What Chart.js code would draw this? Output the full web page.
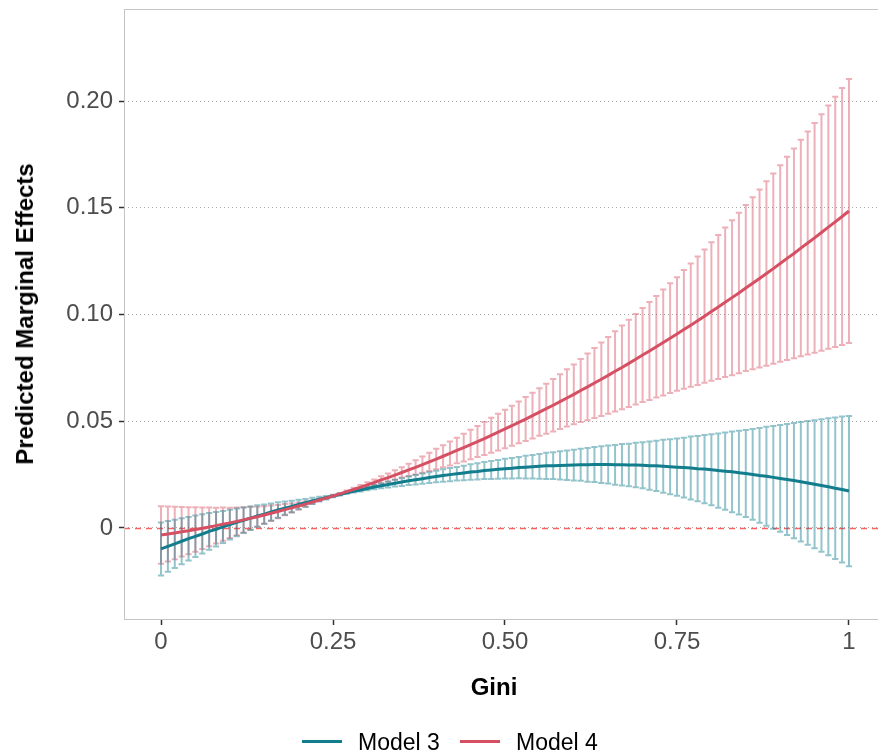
<!DOCTYPE html>
<html>
<head>
<meta charset="utf-8">
<script src="https://cdn.jsdelivr.net/npm/chart.js@4.4.1/dist/chart.umd.min.js"></script>
<style>
  html, body { margin: 0; padding: 0; background: #ffffff; overflow: hidden; width: 878px; height: 755px; }
  #wrap { position: relative; width: 900px; height: 755px; }
  #c { position: absolute; left: 0; top: 0; }
  .txt { position: absolute; font-family: "Liberation Sans", Arial, sans-serif; white-space: nowrap; color: #000; }
  #ytitle { left: 25px; top: 314px; font-weight: bold; font-size: 24px; transform: translate(-50%, -50%) rotate(-90deg); }
  #xtitle { left: 494px; top: 687px; font-weight: bold; font-size: 24px; transform: translate(-50%, -50%); }
  .sw { position: absolute; height: 3px; width: 40px; }
  .leg { font-size: 23px; line-height: 26px; top: 729px; }
</style>
</head>
<body>
<div id="wrap">
  <canvas id="c" width="900" height="755"></canvas>
  <div class="txt" id="ytitle">Predicted Marginal Effects</div>
  <div class="txt" id="xtitle">Gini</div>
  <div class="sw" id="sw3" style="left:302px; top:740px;"></div>
  <div class="txt leg" id="lg3" style="left:358px;">Model 3</div>
  <div class="sw" id="sw4" style="left:460px; top:740px;"></div>
  <div class="txt leg" id="lg4" style="left:516px;">Model 4</div>
</div>
<script>
// ---------------- data ----------------
const gini = [0,0.01,0.02,0.03,0.04,0.05,0.06,0.07,0.08,0.09,
  0.10,0.11,0.12,0.13,0.14,0.15,0.16,0.17,0.18,0.19,
  0.20,0.21,0.22,0.23,0.24,0.25,0.26,0.27,0.28,0.29,
  0.30,0.31,0.32,0.33,0.34,0.35,0.36,0.37,0.38,0.39,
  0.40,0.41,0.42,0.43,0.44,0.45,0.46,0.47,0.48,0.49,
  0.50,0.51,0.52,0.53,0.54,0.55,0.56,0.57,0.58,0.59,
  0.60,0.61,0.62,0.63,0.64,0.65,0.66,0.67,0.68,0.69,
  0.70,0.71,0.72,0.73,0.74,0.75,0.76,0.77,0.78,0.79,
  0.80,0.81,0.82,0.83,0.84,0.85,0.86,0.87,0.88,0.89,
  0.90,0.91,0.92,0.93,0.94,0.95,0.96,0.97,0.98,0.99,
  1.00];

const model3Estimate = [-0.0098,-0.0086,-0.0074,-0.0062,-0.0050,-0.0039,-0.0028,-0.0016,-0.0006,0.0005,
  0.0016,0.0026,0.0036,0.0046,0.0056,0.0065,0.0075,0.0084,0.0093,0.0101,
  0.0110,0.0118,0.0127,0.0135,0.0142,0.0150,0.0157,0.0165,0.0172,0.0178,
  0.0185,0.0192,0.0198,0.0204,0.0210,0.0215,0.0221,0.0226,0.0231,0.0236,
  0.0241,0.0246,0.0250,0.0254,0.0258,0.0262,0.0265,0.0269,0.0272,0.0275,
  0.0278,0.0280,0.0283,0.0285,0.0287,0.0289,0.0291,0.0292,0.0293,0.0294,
  0.0295,0.0296,0.0296,0.0297,0.0297,0.0297,0.0296,0.0296,0.0295,0.0295,
  0.0294,0.0292,0.0291,0.0289,0.0287,0.0285,0.0283,0.0281,0.0278,0.0276,
  0.0273,0.0269,0.0266,0.0263,0.0259,0.0255,0.0251,0.0246,0.0242,0.0237,
  0.0232,0.0227,0.0222,0.0217,0.0211,0.0205,0.0199,0.0193,0.0186,0.0180,
  0.0173];

const model3Lower = [-0.0222,-0.0205,-0.0187,-0.0170,-0.0152,-0.0136,-0.0120,-0.0102,-0.0087,-0.0070,
  -0.0054,-0.0039,-0.0024,-0.0009,0.0006,0.0020,0.0035,0.0048,0.0062,0.0074,
  0.0088,0.0100,0.0112,0.0124,0.0134,0.0144,0.0152,0.0160,0.0166,0.0171,
  0.0177,0.0182,0.0186,0.0190,0.0194,0.0197,0.0201,0.0204,0.0207,0.0211,
  0.0214,0.0217,0.0219,0.0222,0.0224,0.0226,0.0227,0.0229,0.0230,0.0231,
  0.0232,0.0232,0.0233,0.0232,0.0232,0.0231,0.0230,0.0229,0.0227,0.0225,
  0.0223,0.0221,0.0217,0.0215,0.0211,0.0208,0.0203,0.0199,0.0195,0.0191,
  0.0186,0.0179,0.0173,0.0165,0.0158,0.0151,0.0143,0.0134,0.0125,0.0116,
  0.0107,0.0095,0.0085,0.0074,0.0063,0.0051,0.0038,0.0024,0.0010,-0.0004,
  -0.0018,-0.0033,-0.0048,-0.0063,-0.0079,-0.0095,-0.0111,-0.0128,-0.0145,-0.0162,
  -0.0179];

const model3Upper = [0.0026,0.0033,0.0039,0.0046,0.0052,0.0058,0.0064,0.0070,0.0075,0.0080,
  0.0086,0.0091,0.0096,0.0101,0.0106,0.0110,0.0115,0.0120,0.0124,0.0128,
  0.0132,0.0136,0.0142,0.0146,0.0150,0.0156,0.0162,0.0170,0.0178,0.0185,
  0.0193,0.0202,0.0210,0.0218,0.0226,0.0233,0.0241,0.0248,0.0255,0.0261,
  0.0268,0.0275,0.0281,0.0286,0.0292,0.0298,0.0303,0.0309,0.0314,0.0319,
  0.0324,0.0328,0.0333,0.0338,0.0342,0.0347,0.0352,0.0355,0.0359,0.0363,
  0.0367,0.0371,0.0375,0.0379,0.0383,0.0386,0.0389,0.0393,0.0395,0.0399,
  0.0402,0.0405,0.0409,0.0413,0.0416,0.0419,0.0423,0.0428,0.0431,0.0436,
  0.0439,0.0443,0.0447,0.0452,0.0455,0.0459,0.0464,0.0468,0.0474,0.0478,
  0.0482,0.0487,0.0492,0.0497,0.0501,0.0505,0.0509,0.0514,0.0517,0.0522,
  0.0525];

const model4Estimate = [-0.0033,-0.0028,-0.0023,-0.0018,-0.0013,-0.0007,-0.0001,0.0005,0.0011,0.0018,
  0.0024,0.0031,0.0038,0.0046,0.0053,0.0061,0.0069,0.0077,0.0086,0.0094,
  0.0103,0.0112,0.0121,0.0131,0.0140,0.0150,0.0160,0.0170,0.0181,0.0191,
  0.0202,0.0213,0.0225,0.0236,0.0248,0.0260,0.0272,0.0284,0.0297,0.0310,
  0.0323,0.0336,0.0349,0.0363,0.0377,0.0391,0.0405,0.0419,0.0434,0.0449,
  0.0464,0.0479,0.0495,0.0510,0.0526,0.0543,0.0559,0.0575,0.0592,0.0609,
  0.0626,0.0644,0.0661,0.0679,0.0697,0.0715,0.0734,0.0752,0.0771,0.0790,
  0.0810,0.0829,0.0849,0.0869,0.0889,0.0909,0.0930,0.0950,0.0971,0.0992,
  0.1014,0.1035,0.1057,0.1079,0.1101,0.1124,0.1146,0.1169,0.1192,0.1215,
  0.1239,0.1263,0.1286,0.1311,0.1335,0.1359,0.1384,0.1409,0.1434,0.1459,
  0.1485];

const model4Lower = [-0.0168,-0.0157,-0.0146,-0.0134,-0.0123,-0.0111,-0.0098,-0.0086,-0.0073,-0.0060,
  -0.0047,-0.0034,-0.0021,-0.0007,0.0006,0.0020,0.0033,0.0046,0.0060,0.0073,
  0.0087,0.0100,0.0113,0.0126,0.0137,0.0147,0.0156,0.0164,0.0173,0.0181,
  0.0190,0.0199,0.0208,0.0217,0.0226,0.0236,0.0243,0.0251,0.0259,0.0267,
  0.0275,0.0284,0.0293,0.0303,0.0312,0.0322,0.0332,0.0342,0.0352,0.0363,
  0.0374,0.0385,0.0397,0.0407,0.0419,0.0432,0.0442,0.0452,0.0464,0.0475,
  0.0486,0.0496,0.0505,0.0515,0.0525,0.0535,0.0546,0.0556,0.0567,0.0578,
  0.0590,0.0600,0.0611,0.0621,0.0632,0.0643,0.0652,0.0661,0.0670,0.0680,
  0.0690,0.0698,0.0707,0.0716,0.0725,0.0735,0.0743,0.0752,0.0760,0.0769,
  0.0779,0.0787,0.0795,0.0804,0.0813,0.0821,0.0830,0.0839,0.0848,0.0857,
  0.0867];

const model4Upper = [0.0102,0.0101,0.0100,0.0098,0.0097,0.0097,0.0096,0.0096,0.0095,0.0096,
  0.0095,0.0096,0.0097,0.0099,0.0100,0.0102,0.0105,0.0108,0.0112,0.0115,
  0.0119,0.0124,0.0129,0.0136,0.0143,0.0153,0.0164,0.0176,0.0189,0.0201,
  0.0214,0.0227,0.0242,0.0255,0.0270,0.0284,0.0301,0.0317,0.0335,0.0353,
  0.0371,0.0388,0.0405,0.0423,0.0442,0.0460,0.0478,0.0496,0.0516,0.0535,
  0.0554,0.0573,0.0593,0.0613,0.0633,0.0654,0.0676,0.0698,0.0720,0.0743,
  0.0766,0.0792,0.0817,0.0843,0.0869,0.0895,0.0922,0.0948,0.0975,0.1002,
  0.1030,0.1058,0.1087,0.1117,0.1146,0.1175,0.1208,0.1239,0.1272,0.1304,
  0.1338,0.1372,0.1407,0.1442,0.1477,0.1513,0.1549,0.1586,0.1624,0.1661,
  0.1699,0.1739,0.1777,0.1818,0.1857,0.1897,0.1938,0.1979,0.2020,0.2061,
  0.2103];

const xTicks = [0, 0.25, 0.5, 0.75, 1];
const xTickLabels = ["0", "0.25", "0.50", "0.75", "1"];
const yTicks = [0, 0.05, 0.10, 0.15, 0.20];
const yTickLabels = ["0", "0.05", "0.10", "0.15", "0.20"];
const seriesNames = ["Model 3", "Model 4"];

// ---------------- styles ----------------
const col3 = "#127D8C";
const col4 = "#D65064";
const bar3 = "rgba(18,125,140,0.45)";
const bar4 = "rgba(214,80,100,0.45)";
const capHalfWidth = 0.0045; // in data units of x
document.getElementById("sw3").style.background = col3;
document.getElementById("sw4").style.background = col4;
document.getElementById("lg3").textContent = seriesNames[0];
document.getElementById("lg4").textContent = seriesNames[1];

const pts = (ys) => gini.map((g, i) => ({ x: g, y: ys[i] }));

const errorBarPlugin = {
  id: "errorBars",
  beforeDatasetsDraw(chart) {
    const { ctx, chartArea: a, scales: { x, y } } = chart;
    ctx.save();
    ctx.beginPath();
    ctx.rect(a.left, a.top, a.right - a.left, a.bottom - a.top);
    ctx.clip();
    // zero reference line
    const y0 = Math.round(y.getPixelForValue(0)) + 0.5;
    ctx.strokeStyle = "#ff5f5f";
    ctx.lineWidth = 1.4;
    ctx.setLineDash([6, 5]);
    ctx.beginPath();
    ctx.moveTo(a.left, y0);
    ctx.lineTo(a.right, y0);
    ctx.stroke();
    ctx.setLineDash([]);
    const sets = [
      { lower: model4Lower, upper: model4Upper, color: bar4 },
      { lower: model3Lower, upper: model3Upper, color: bar3 }
    ];
    ctx.lineWidth = 2;
    for (const s of sets) {
      ctx.strokeStyle = s.color;
      for (let i = 0; i < gini.length; i++) {
        const px = x.getPixelForValue(gini[i]);
        const l = x.getPixelForValue(gini[i] - capHalfWidth);
        const r = x.getPixelForValue(gini[i] + capHalfWidth);
        const yu = y.getPixelForValue(s.upper[i]);
        const yl = y.getPixelForValue(s.lower[i]);
        ctx.beginPath();
        ctx.moveTo(l, yu); ctx.lineTo(r, yu);
        ctx.moveTo(px, yu); ctx.lineTo(px, yl);
        ctx.moveTo(l, yl); ctx.lineTo(r, yl);
        ctx.stroke();
      }
    }
    ctx.restore();
  },
  afterDraw(chart) {
    const { ctx, chartArea: a } = chart;
    ctx.save();
    ctx.strokeStyle = "#c4c4c4";
    ctx.lineWidth = 1;
    ctx.strokeRect(a.left + 0.5, a.top + 0.5, a.right - a.left - 1, a.bottom - a.top - 1);
    ctx.restore();
  }
};

const tickFont = { family: "'Liberation Sans', Arial, sans-serif", size: 24 };

new Chart(document.getElementById("c"), {
  type: "line",
  data: {
    datasets: [
      { label: seriesNames[1], data: pts(model4Estimate), borderColor: col4, borderWidth: 3, pointRadius: 0, tension: 0, fill: false, order: 0 },
      { label: seriesNames[0], data: pts(model3Estimate), borderColor: col3, borderWidth: 3, pointRadius: 0, tension: 0, fill: false, order: 1 }
    ]
  },
  options: {
    responsive: false,
    animation: false,
    devicePixelRatio: 1,
    layout: { padding: { top: 9, right: 14, left: 0, bottom: 0 } },
    plugins: { legend: { display: false }, tooltip: { enabled: false } },
    scales: {
      x: {
        type: "linear",
        min: -0.0538,
        max: 1.0538,
        afterBuildTicks: (s) => { s.ticks = xTicks.map(v => ({ value: v })); },
        afterFit: (s) => { s.height = 135; s.paddingLeft = 0; s.paddingRight = 0; },
        ticks: {
          autoSkip: false, maxRotation: 0, padding: 3,
          color: "#4d4d4d", font: tickFont,
          callback: (v, i) => xTickLabels[i]
        },
        grid: { drawOnChartArea: false, drawTicks: true, tickLength: 5, tickColor: "#333333", tickWidth: 1.5 },
        border: { display: false }
      },
      y: {
        type: "linear",
        min: -0.0431,
        max: 0.2431,
        afterBuildTicks: (s) => { s.ticks = yTicks.map(v => ({ value: v })); },
        afterFit: (s) => { s.width = 124; s.paddingTop = 0; s.paddingBottom = 0; },
        ticks: {
          autoSkip: false, padding: 6,
          color: "#4d4d4d", font: tickFont,
          callback: (v, i) => yTickLabels[i]
        },
        grid: { color: "#a8a8a8", lineWidth: 1, drawTicks: true, tickLength: 5, tickColor: "#333333", tickWidth: 1.5, tickBorderDash: [] },
        border: { display: false, dash: [1, 3] }
      }
    }
  },
  plugins: [errorBarPlugin]
});
</script>
</body>
</html>
